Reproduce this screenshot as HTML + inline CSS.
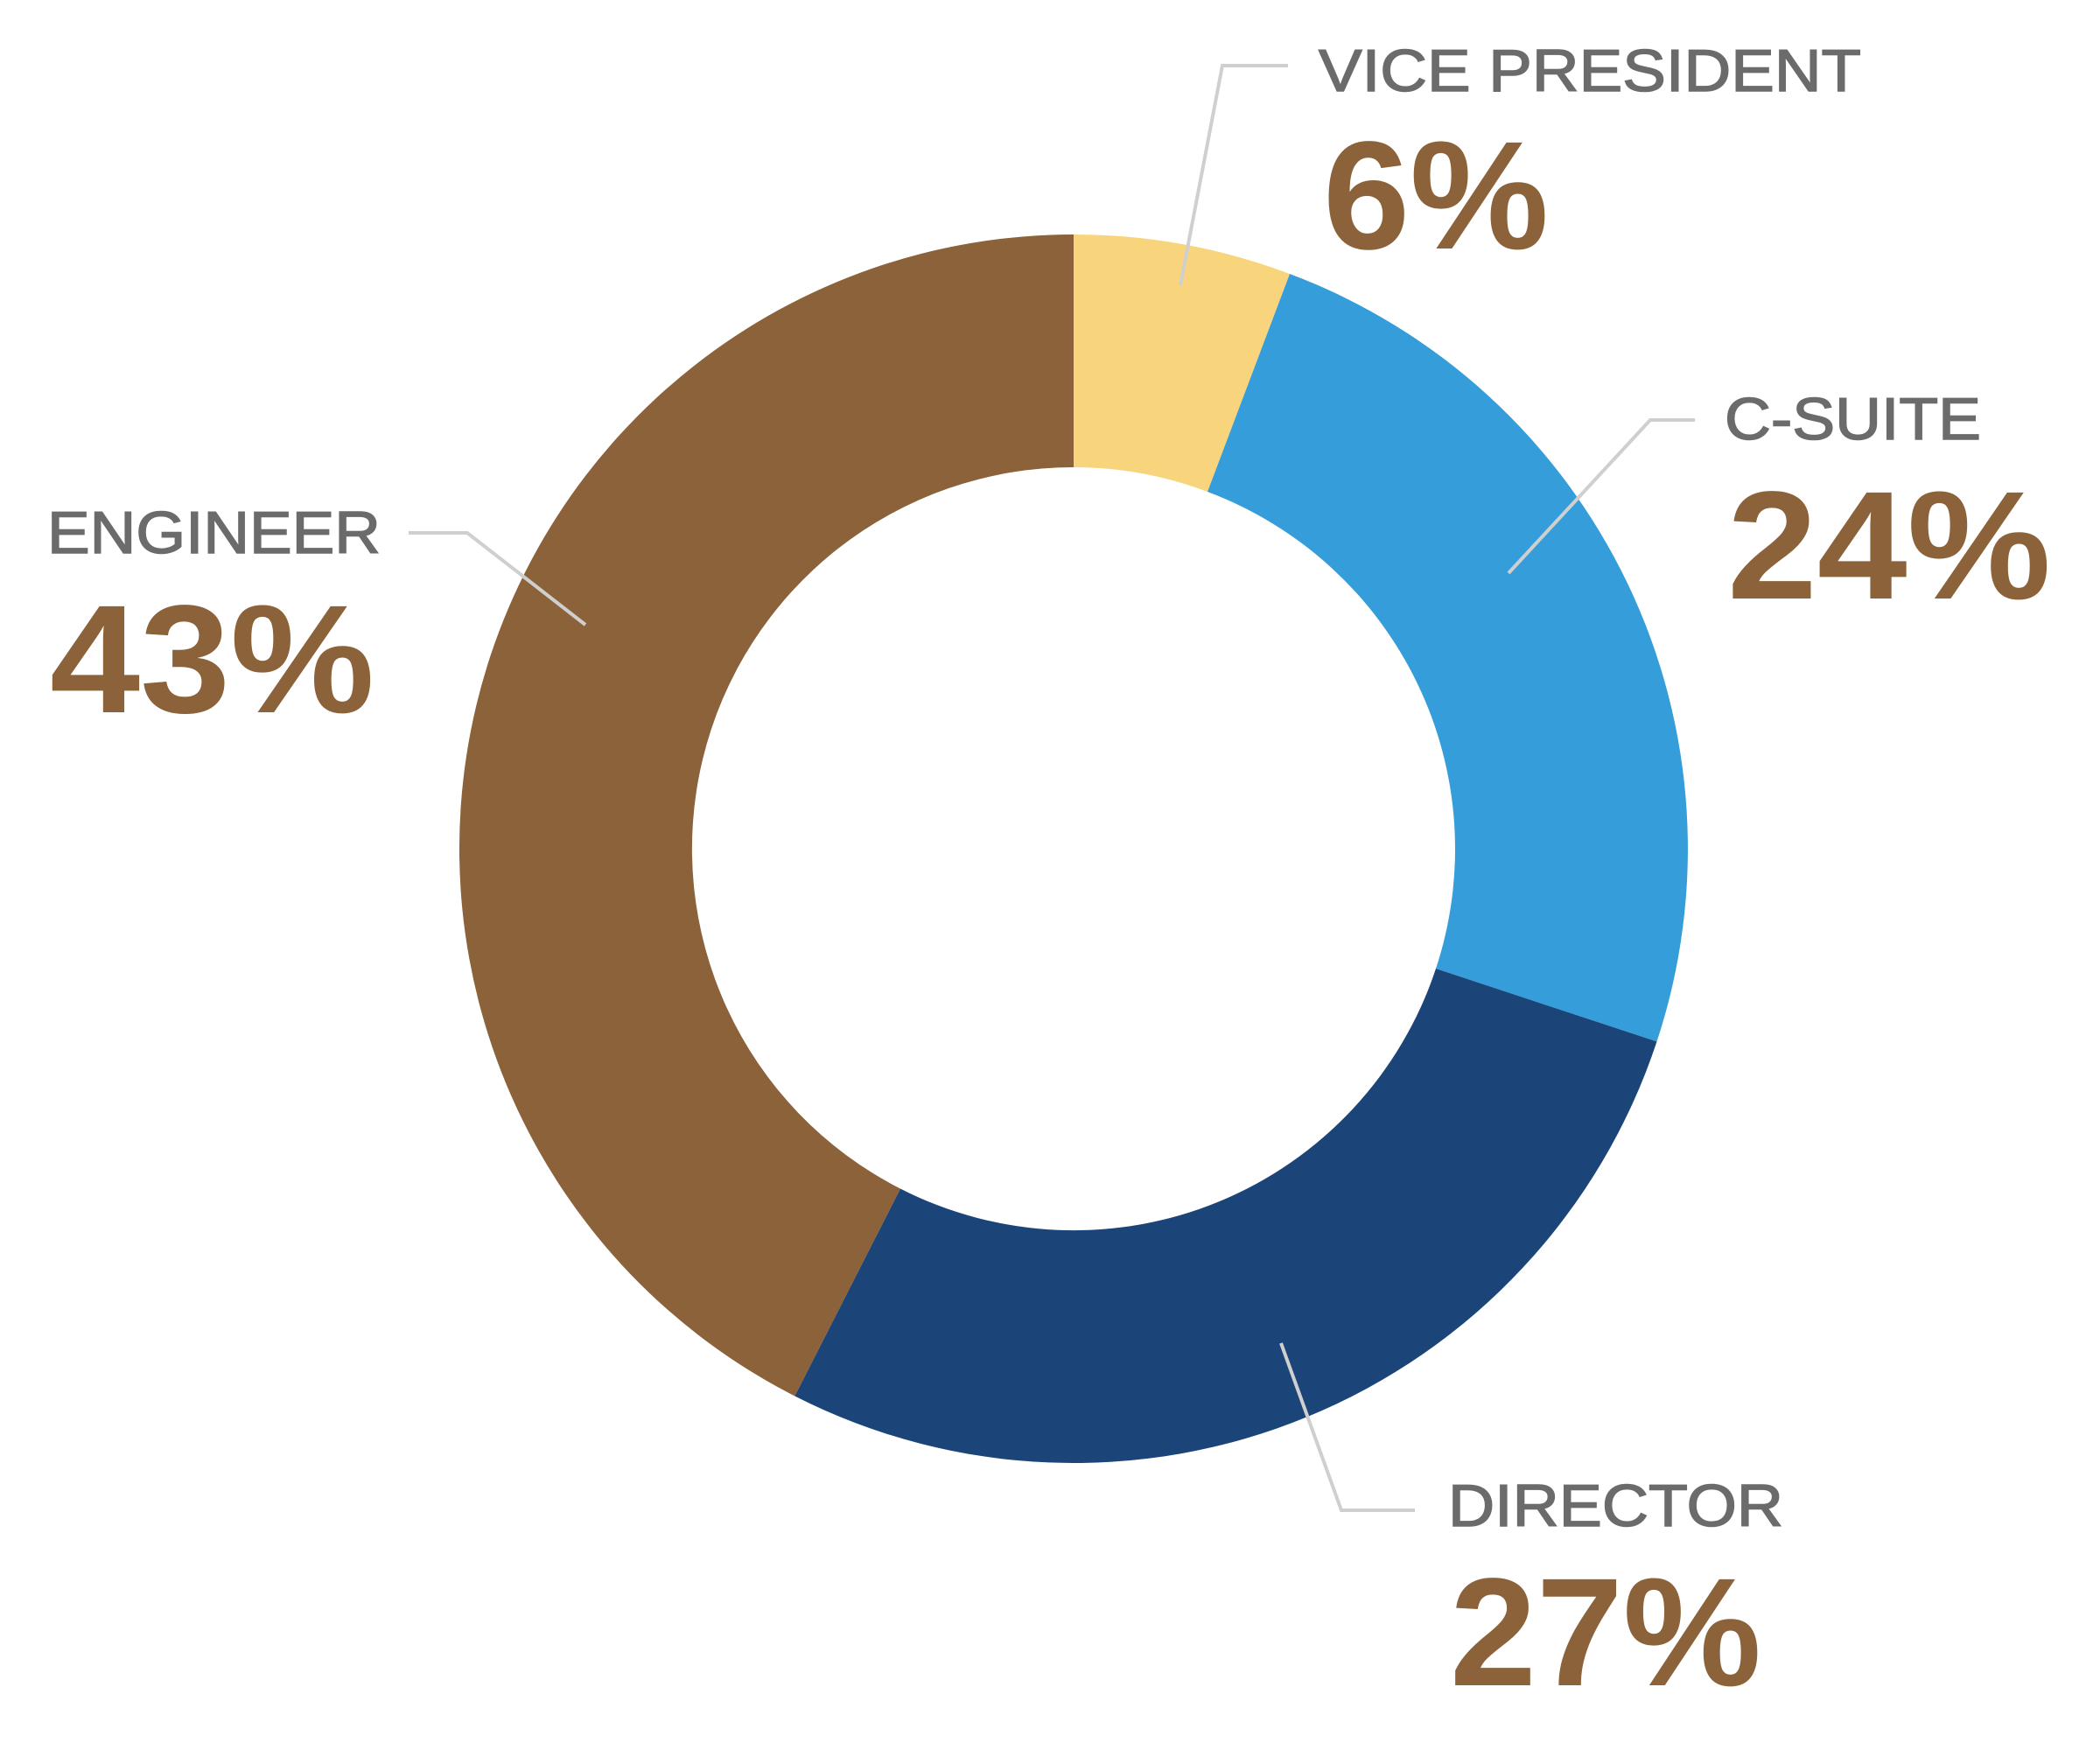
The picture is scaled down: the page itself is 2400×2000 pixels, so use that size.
<!DOCTYPE html>
<html><head><style>html,body{margin:0;padding:0;background:#fff}svg{display:block}</style></head><body>
<svg width="2400" height="2000" viewBox="0 0 2400 2000" xmlns="http://www.w3.org/2000/svg">
<path d="M1227,268 A702,702 0 0 1 1474,313 L1380,562 A436,436 0 0 0 1227,534 Z" fill="#F8D57C"/>
<path d="M1474,313 A702,702 0 0 1 1893.5,1190.4 L1641,1107 A436,436 0 0 0 1380,562 Z" fill="#369DDB"/>
<path d="M1893.5,1190.4 A702,702 0 0 1 908.3,1595.5 L1029,1358.5 A436,436 0 0 0 1641,1107 Z" fill="#1B4478"/>
<path d="M908.3,1595.5 A702,702 0 0 1 1227,268 L1227,534 A436,436 0 0 0 1029,1358.5 Z" fill="#8B6239"/>
<g fill="none" stroke="#cfcfcf" stroke-width="4">
<polyline points="1472,75 1397,75 1349,326"/>
<polyline points="1937,480 1886,480 1724,655"/>
<polyline points="467,609 534,609 669,714"/>
<polyline points="1617,1726 1533,1726 1464,1535"/>
</g>
<g font-family="Liberation Sans, sans-serif" fill="#6b6b6b" stroke="#6b6b6b" stroke-width="1.5" font-size="68">
<text x="1507" y="104" textLength="620" lengthAdjust="spacingAndGlyphs">VICE PRESIDENT</text>
<text x="1971" y="502" textLength="293" lengthAdjust="spacingAndGlyphs">C-SUITE</text>
<text x="54" y="632" textLength="381" lengthAdjust="spacingAndGlyphs">ENGINEER</text>
<text x="1655" y="1744" textLength="383" lengthAdjust="spacingAndGlyphs">DIRECTOR</text>
</g>
<g font-family="Liberation Sans, sans-serif" fill="#8B6239" font-size="176" font-weight="bold">
<text x="1512" y="284" textLength="258" lengthAdjust="spacingAndGlyphs">6%</text>
<text x="1974" y="684" textLength="370" lengthAdjust="spacingAndGlyphs">24%</text>
<text x="57" y="814" textLength="371" lengthAdjust="spacingAndGlyphs">43%</text>
<text x="1657" y="1926" textLength="356" lengthAdjust="spacingAndGlyphs">27%</text>
</g>
</svg>
</body></html>
